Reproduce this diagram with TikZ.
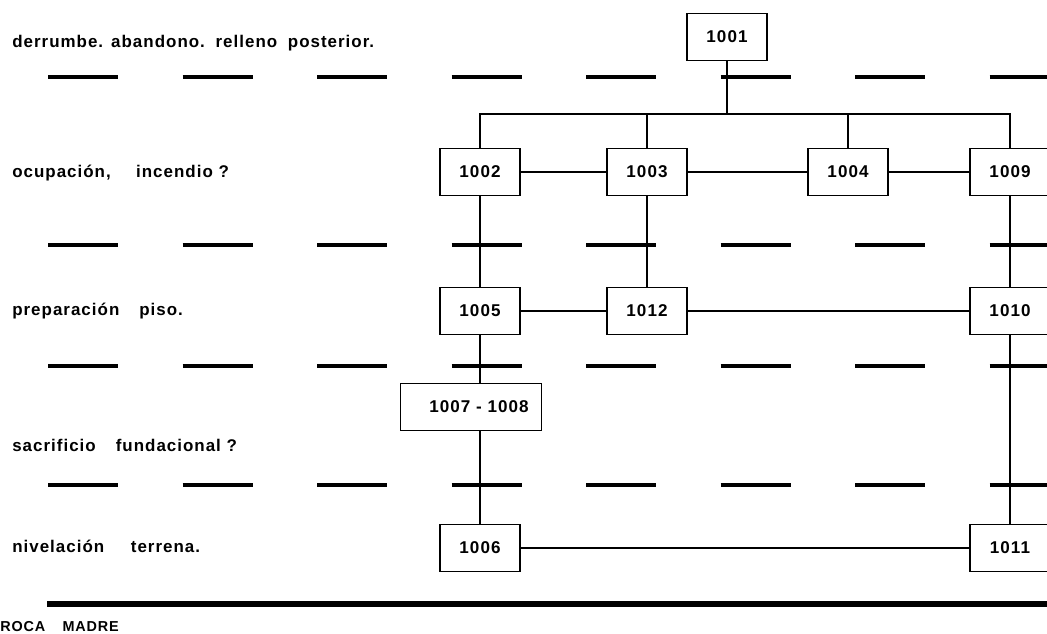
\documentclass[tikz,border=0pt]{standalone}
\usepackage{fontspec}
\setmainfont{Liberation Sans}
\newfontfamily\labfont[LetterSpace=6]{Liberation Sans}
\begin{document}
\begin{tikzpicture}[x=0.75pt,y=-0.75pt,
  box/.style={draw,line width=1.1pt,minimum width=60pt,minimum height=35pt,inner sep=0pt,font=\labfont\bfseries\fontsize{12.8}{13}\selectfont},
  lab/.style={anchor=base west,inner sep=0pt,font=\labfont\bfseries\fontsize{12.7}{14}\selectfont},
  conn/.style={line width=0.8pt},
  dashline/.style={line width=2.6pt}]
\useasboundingbox (0,0) rectangle (1047,633);
% dashed horizons
\foreach \yy in {77,245,366,485}{
  \foreach \k in {0,...,7}{
    \draw[dashline] ({48+134.5*\k},\yy) -- ({min(48+134.5*\k+70,1047)},\yy);
  }
}
\draw[line width=4.5pt] (47,604) -- (1047,604);
% labels
\node[lab] (l1) at (12,47) {derrumbe.\hspace{6pt}abandono.\hspace{8pt}relleno\hspace{8pt}posterior.};
\node[lab] (l2) at (12,177) {ocupación,\hspace{19pt}incendio ?};
\node[lab] (l3) at (12,315) {preparación\hspace{15pt}piso.};
\node[lab] (l4) at (12,451) {sacrificio\hspace{15pt}fundacional ?};
\node[lab] (l5) at (12,552) {nivelación\hspace{20pt}terrena.};
\node[lab,font=\labfont\bfseries\fontsize{10.8}{12}\selectfont] (l6) at (0,631) {ROCA\hspace{13pt}MADRE};
% boxes
\node[box] (b1001) at (727,37) {1001};
\node[box] (b1002) at (480,172) {1002};
\node[box] (b1003) at (647,172) {1003};
\node[box] (b1004) at (848,172) {1004};
\node[box] (b1009) at (1010,172) {1009};
\node[box] (b1005) at (480,311) {1005};
\node[box] (b1012) at (647,311) {1012};
\node[box] (b1010) at (1010,311) {1010};
\node[box,minimum width=106pt] (b1007) at (471,407) {\hspace{12pt}1007 - 1008};
\node[box] (b1006) at (480,548) {1006};
\node[box] (b1011) at (1010,548) {1011};
% top bus
\coordinate (bus) at (727,114);
\draw[conn] (b1001.south) -- (bus);
\draw[conn] (b1002.north) |- (bus) -| (b1009.north);
\draw[conn] (b1003.north) -- (b1003.north |- bus);
\draw[conn] (b1004.north) -- (b1004.north |- bus);
% horizontal links
\draw[conn] (b1002) -- (b1003);
\draw[conn] (b1003) -- (b1004);
\draw[conn] (b1004) -- (b1009);
\draw[conn] (b1005) -- (b1012);
\draw[conn] (b1012) -- (b1010);
\draw[conn] (b1006) -- (b1011);
% vertical links
\draw[conn] (b1002) -- (b1005);
\draw[conn] (b1003) -- (b1012);
\draw[conn] (b1009) -- (b1010);
\draw[conn] (b1005.south) -- (b1005.south |- b1007.north);
\draw[conn] (b1006.north |- b1007.south) -- (b1006.north);
\draw[conn] (b1010) -- (b1011);
\end{tikzpicture}
\end{document}
